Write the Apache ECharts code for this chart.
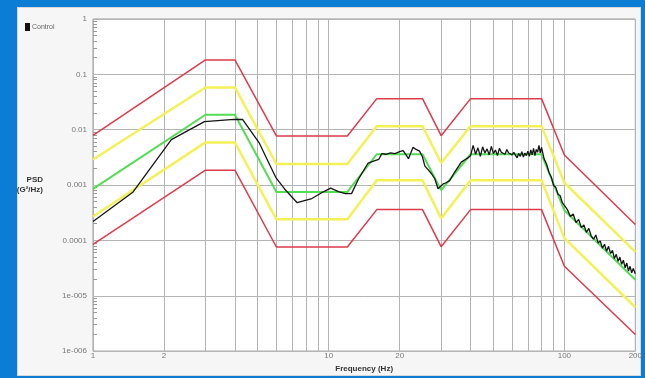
<!DOCTYPE html>
<html>
<head>
<meta charset="utf-8">
<script src="https://cdn.jsdelivr.net/npm/echarts@6/dist/echarts.min.js"></script>
<style>
  html, body { margin: 0; padding: 0; background: #0b7dd5; }
  #panel {
    position: absolute; left: 17px; top: 7px; width: 624px; height: 369px;
    background: #f6f6f6; border: 1px solid #d8d8d8; box-sizing: border-box;
  }
  #chart { position: absolute; left: 0; top: 0; width: 645px; height: 378px; }
</style>
</head>
<body>
<div id="panel"></div>
<div id="chart"></div>
<script>
// breakpoints of the test profile (Hz)
const profileFreq = [1, 3, 4, 6, 12, 16, 25, 30, 40, 80, 100, 200]
const abortHigh = [0.0079, 0.182, 0.182, 0.0077, 0.0077, 0.0364, 0.0364, 0.0078, 0.0364, 0.0364, 0.0035, 0.000194]
const alarmHigh = [0.0029, 0.058, 0.058, 0.0024, 0.0024, 0.0116, 0.0116, 0.0025, 0.0116, 0.0116, 0.0011, 0.000062]
const reference = [0.00085, 0.0186, 0.0186, 0.00075, 0.00075, 0.0036, 0.0036, 0.00081, 0.0036, 0.0036, 0.00035, 0.0000195]
const alarmLow = [0.00027, 0.0059, 0.0059, 0.00024, 0.00024, 0.00122, 0.00122, 0.00025, 0.00122, 0.00122, 0.00011, 0.0000062]
const abortLow = [0.000085, 0.00186, 0.00186, 0.000076, 0.000076, 0.00036, 0.00036, 0.000077, 0.00036, 0.00036, 0.000034, 0.000002]

// measured control spectrum
const controlFreq = [
  1, 1.48, 2.15, 2.97, 3.97, 4.31, 5.07, 5.5, 5.96, 6.5, 7.35, 8.48, 9.3, 10.2, 11, 11.75, 12.5,
  13.4, 14.7, 15.5, 16.3, 16.8, 17.5, 18.3, 19.1, 20, 20.7, 21.3, 21.8, 22.8, 23.5, 24.3, 25,
  25.6, 26.4, 27.3, 28.2, 29.1, 30.6, 31.5, 32.6, 34.2, 36.5, 38, 39,
  40, 41, 42, 43, 44, 45, 46, 47, 48, 49, 50, 51, 52, 53, 54, 55, 56, 57, 58, 59, 60,
  61, 62, 63, 64, 65, 66, 67, 68, 69, 70, 71, 72, 73, 74, 75, 76, 77, 78, 79, 80,
  82, 84, 86, 88, 90, 92, 94, 96, 98, 100, 103, 106, 109, 112, 115, 118, 121, 124, 127, 130,
  133, 136, 139, 142, 145, 148, 151, 154, 157, 160, 163, 166, 169, 172, 175, 178, 181, 184,
  187, 190, 193, 196, 200
]
const controlPsd = [
  0.00022, 0.00075, 0.0066, 0.014, 0.0154, 0.0153, 0.0058, 0.0028, 0.00138, 0.00085, 0.00048, 0.00057, 0.00072, 0.00088, 0.00076, 0.0007, 0.0007,
  0.0013, 0.0025, 0.0027, 0.0029, 0.0037, 0.0036, 0.0038, 0.0037, 0.004, 0.0042, 0.0035, 0.003, 0.0048, 0.0044, 0.0041, 0.0032,
  0.0022, 0.0019, 0.0016, 0.0013, 0.00086, 0.00105, 0.0011, 0.0012, 0.0017, 0.0026, 0.0029, 0.0031,
  0.0034, 0.0052, 0.0036, 0.0047, 0.0033, 0.0049, 0.0038, 0.0045, 0.0035, 0.005, 0.0037, 0.0043, 0.0034, 0.0046, 0.0039, 0.0041, 0.0036, 0.0044, 0.0038, 0.004, 0.0035,
  0.0039, 0.0036, 0.0031, 0.0037, 0.0033, 0.004, 0.0032, 0.0038, 0.0034, 0.0041, 0.0033, 0.0043, 0.0035, 0.0046, 0.0034, 0.0044, 0.0039, 0.0052, 0.0038, 0.0048,
  0.003, 0.0024, 0.0017, 0.0014, 0.00098, 0.0009, 0.00068, 0.00064, 0.00048, 0.00043, 0.00036, 0.00027, 0.0003, 0.00021, 0.00024, 0.00017, 0.00019, 0.00014, 0.000165, 0.00012,
  0.000105, 0.000125, 0.00009, 0.000098, 0.000072, 0.000085, 0.000064, 0.000078, 0.000058, 0.000066, 0.000047, 0.000056, 0.000042, 0.00005, 0.000037, 0.000044, 0.000032, 0.000039,
  0.000028, 0.000034, 0.000026, 0.000031, 0.000025
]

const xLabelValues = [1, 2, 10, 20, 100, 200]
const xGridValues = [1, 2, 3, 4, 5, 6, 7, 8, 9, 10, 20, 30, 40, 50, 60, 70, 80, 90, 100, 200]
const yLabelValues = [1e-6, 1e-5, 1e-4, 1e-3, 1e-2, 1e-1, 1]
const yLabelTexts = ['1e-006', '1e-005', '0.0001', '0.001', '0.01', '0.1', '1']
const yMinorMantissa = [2, 3, 4, 5, 6, 7, 8, 9]

const zip = (xs, ys) => xs.map((x, i) => [x, ys[i]])

const yMinorValues = []
for (let e = -6; e < 0; e++) {
  yMinorMantissa.forEach((m) => yMinorValues.push(m * Math.pow(10, e)))
}

const chart = echarts.init(document.getElementById('chart'))

const limitLine = (name, data, color, width) => ({
  name: name,
  type: 'line',
  data: data,
  symbol: 'none',
  silent: true,
  lineStyle: { color: color, width: width },
  z: 2,
})

const gridColor = '#b4b4b4'

const option = {
  animation: false,
  textStyle: { fontFamily: 'Liberation Sans, Arial, sans-serif' },
  legend: {
    data: ['Control'],
    left: 20,
    top: 18,
    icon: 'rect',
    itemWidth: 5,
    itemHeight: 8,
    itemGap: 2,
    textStyle: { fontSize: 7, color: '#666', padding: [0, 0, 0, -3] },
  },
  grid: {
    left: 93,
    top: 19,
    right: 7,
    bottom: 21,
    show: true,
    backgroundColor: '#ffffff',
    borderColor: '#9a9a9a',
    borderWidth: 1,
  },
  xAxis: {
    type: 'log',
    logBase: 10,
    min: 1,
    max: 200,
    name: 'Frequency (Hz)',
    nameLocation: 'middle',
    nameGap: 9,
    nameTextStyle: { fontSize: 8, color: '#333', fontWeight: 'bold' },
    axisLine: { show: false },
    axisTick: { show: false, customValues: xGridValues },
    axisLabel: {
      customValues: xLabelValues,
      fontSize: 8,
      color: '#777',
      margin: 1,
      formatter: (v) => String(Math.round(v)),
    },
    splitLine: { show: true, lineStyle: { color: gridColor, width: 1 } },
  },
  yAxis: [
    {
      type: 'log',
      logBase: 10,
      min: 1e-6,
      max: 1,
      name: 'PSD\n(G²/Hz)',
      nameLocation: 'middle',
      nameRotate: 0,
      nameGap: 50,
      nameTextStyle: { fontSize: 8, color: '#333', fontWeight: 'bold', lineHeight: 10 },
      axisLine: { show: false },
      axisTick: { show: false, customValues: yLabelValues },
      axisLabel: {
        customValues: yLabelValues,
        fontSize: 8,
        color: '#777',
        margin: 6,
        formatter: (v) => yLabelTexts[Math.round(Math.log10(v)) + 6],
      },
      splitLine: { show: true, lineStyle: { color: gridColor, width: 1 } },
    },
    {
      // minor ticks only
      type: 'log',
      logBase: 10,
      min: 1e-6,
      max: 1,
      position: 'left',
      axisLine: { show: false },
      axisLabel: { show: false },
      splitLine: { show: false },
      axisTick: {
        show: true,
        inside: true,
        length: 4,
        customValues: yMinorValues,
        lineStyle: { color: '#9a9a9a' },
      },
    },
  ],
  series: [
    limitLine('Abort high', zip(profileFreq, abortHigh), '#dd3a4c', 1.5),
    limitLine('Alarm high', zip(profileFreq, alarmHigh), '#f4f057', 2.5),
    limitLine('Reference', zip(profileFreq, reference), '#52dd52', 2),
    limitLine('Alarm low', zip(profileFreq, alarmLow), '#f4f057', 2.5),
    limitLine('Abort low', zip(profileFreq, abortLow), '#dd3a4c', 1.5),
    {
      name: 'Control',
      type: 'line',
      data: zip(controlFreq, controlPsd),
      symbol: 'none',
      color: '#111',
      lineStyle: { color: '#151515', width: 1.3 },
      z: 3,
    },
  ],
}

chart.setOption(option)
</script>
</body>
</html>
